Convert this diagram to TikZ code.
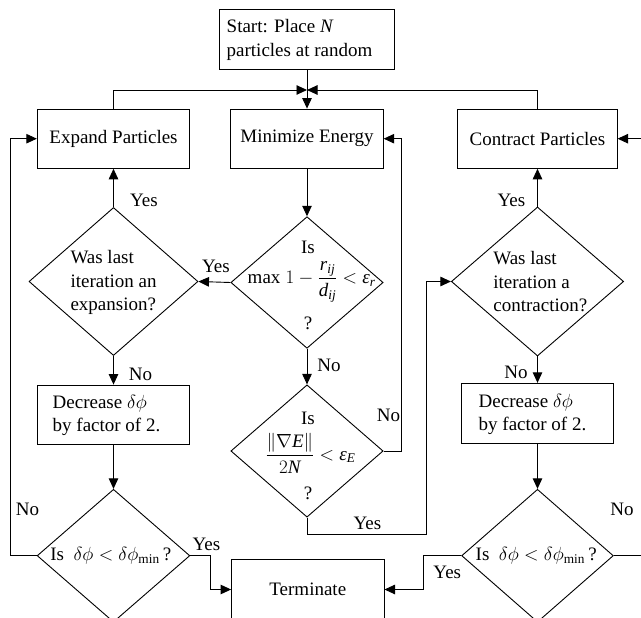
\RequirePackage{fix-cm}
\documentclass[tikz,border=0pt]{standalone}
\usepackage{amsmath}
\usepackage{fontspec}
\setmainfont{Liberation Serif}
\usetikzlibrary{shapes.geometric,arrows.meta}
\newcommand\mi[1]{\textit{#1}}
\newcommand\dphi{\delta\phi}
\begin{document}
\begin{tikzpicture}[x=1pt,y=-1pt,line width=0.9pt,
  every node/.style={font=\fontsize{19}{23.5}\selectfont, inner sep=0pt},
  box/.style={draw, rectangle, minimum width=#1, minimum height=59.3pt},
  box/.default=152.5pt,
  dia/.style 2 args={draw, diamond, minimum width=#1, minimum height=#2},
  txt/.style={align=left},
  arr/.style={-{Triangle[length=10.5pt,width=9.5pt]}}]
\useasboundingbox (0,0) rectangle (641,618);
\fill[white] (0,0) rectangle (641,618);
\clip (0,0) rectangle (641,618);

% boxes
\node[box=174.7pt, minimum height=60pt] (start) at (307,39.3) {};
\node[txt] (starttxt) at (299.5,40) {Start: Place \mi{N}\\particles at random};
\node[box] (expand) at (113.5,138.7) {Expand Particles};
\node[box] (minimize) at (307,138.7) {Minimize Energy};
\node[box=159.3pt] (contract) at (537.5,138.7) {Contract Particles};
\node[box] (dec1) at (113.5,414.7) {};
\node[txt] (dec1txt) at (106.5,415.5) {Decrease $\dphi$\\by factor of 2.};
\node[box, minimum height=60pt] (dec2) at (537.5,413.3) {};
\node[txt] (dec2txt) at (532.5,414.5) {Decrease $\dphi$\\by factor of 2.};
\node[box] (term) at (307.8,589.5) {Terminate};

% diamonds
\node[dia={169pt}{148pt}] (d1) at (113.5,281.5) {};
\node[dia={152.3pt}{131.6pt}] (d2) at (307,282.5) {};
\node[dia={172.3pt}{149pt}] (d3) at (537.5,281.5) {};
\node[dia={152.3pt}{132.3pt}] (d4) at (307,451) {};
\node[dia={152.7pt}{132.8pt}] (d5) at (113.5,555.7) {};
\node[dia={151.7pt}{132.8pt}] (d6) at (537.5,555.7) {};

% diamond texts
\node[txt] (d1txt) at (113.5,282.5) {Was last\\iteration an\\expansion?};
\node[txt] (d3txt) at (540.3,282) {Was last\\iteration a\\contraction?};
\node (d2a) at (308,247) {Is};
\node (d2b) at (311.7,282) {$\text{max}\;1 - \dfrac{\mi{r}_{\mi{ij}}}{\mi{d}_{\mi{ij}}} < \mi{ε}_{\mi{r}}$};
\node (d2c) at (308,323.3) {?};
\node (d4a) at (308,418.3) {Is};
\node (d4b) at (310.5,453) {$\dfrac{\left\|\nabla \mi{E}\right\|}{2\mi{N}} < \mi{ε}_{\mi{E}}$};
\node (d4c) at (308,493.3) {?};
\node (d5txt) at (110.8,555.7) {Is~~$\dphi < \dphi_{\text{min}}$\,?};
\node (d6txt) at (536.2,555.7) {Is~~$\dphi < \dphi_{\text{min}}$\,?};

% helper coordinates
\coordinate (j) at (307,90);
\coordinate (lx) at (10,0);
\coordinate (mx) at (401,0);
\coordinate (yb) at (426,534);
\coordinate (ly) at (210.7,0);
\coordinate (ry) at (423.3,0);
\coordinate (rr) at (660,0);

% connectors
\draw[arr] (start.south) -- (minimize.north);
\draw[arr] (expand.north) |- (j);
\draw[arr] (contract.north) |- (j);
\draw[arr] (minimize.south) -- (d2.north);
\draw[arr] (d2.west) -- (d1.east);
\draw[arr] (d1.north) -- (expand.south);
\draw[arr] (d1.south) -- (dec1.north);
\draw[arr] (dec1.south) -- (d5.north);
\draw[arr] (d5.west) -- (d5.west -| lx) |- (expand.west);
\draw[arr] (d5.east) -- (d5.east -| ly) |- (term.west);
\draw[arr] (d2.south) -- (d4.north);
\draw[arr] (d4.east) -- (d4.east -| mx) |- (minimize.east);
\draw[arr] (d4.south) |- (yb) |- (d3.west);
\draw[arr] (d3.north) -- (contract.south);
\draw[arr] (d3.south) -- (dec2.north);
\draw[arr] (dec2.south) -- (d6.north);
\draw[arr] (d6.west) -- (d6.west -| ry) |- (term.east);
\draw[arr] (d6.east) -- (d6.east -| rr) |- (contract.east);

% labels
\node (y1) at (216,266) {Yes};
\node (y2) at (144,200) {Yes};
\node (y3) at (511.5,200) {Yes};
\node (n1) at (140.5,374) {No};
\node (n2) at (329,365) {No};
\node (n3) at (516,372.7) {No};
\node (n4) at (388.5,415) {No};
\node (y4) at (367.5,523.7) {Yes};
\node (n5) at (27.5,509.3) {No};
\node (y5) at (206.5,544.3) {Yes};
\node (y6) at (447.3,572) {Yes};
\node (n6) at (622,509.3) {No};
\end{tikzpicture}
\end{document}
